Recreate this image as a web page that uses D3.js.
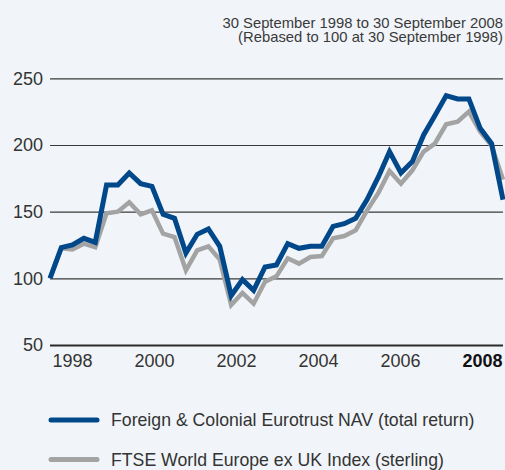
<!DOCTYPE html>
<html>
<head>
<meta charset="utf-8">
<script src="https://cdn.jsdelivr.net/npm/d3@7"></script>
<style>
  html, body { margin: 0; padding: 0; background: #f1f5f9; }
  svg { display: block; }
  text { font-family: "Liberation Sans", Arial, Helvetica, sans-serif; }
</style>
</head>
<body>
<svg id="chart" width="505" height="470"></svg>
<script>
// ---- Data (quarterly, 30 Sep 1998 to 30 Sep 2008, rebased to 100) ----
const navValues = [
  100, 123, 125, 130, 127, 170, 170, 179, 171, 169,
  148, 145, 119, 133, 137, 124, 87, 99, 91, 108.5,
  110, 126, 122.5, 124, 124, 139, 141, 145, 159, 176,
  195, 179, 187.5, 207.5, 222, 237, 234.5, 234.5, 212.5, 201,
  159
];
const indexValues = [
  100, 122.5, 121.7, 126, 123.3, 148.7, 150, 157, 148, 151,
  133.5, 131, 106, 121, 124, 114, 80, 89, 81, 97.5,
  101.5, 115, 111, 116, 116.7, 130, 131.7, 136, 151, 164,
  180.5, 171, 181, 195, 201, 215.5, 217.5, 225, 210, 199.5,
  174
];
const yTicks = [50, 100, 150, 200, 250];
const yearLabels = ["1998", "2000", "2002", "2004", "2006", "2008"];
const seriesNames = [
  "Foreign & Colonial Eurotrust NAV (total return)",
  "FTSE World Europe ex UK Index (sterling)"
];
const titleLines = [
  "30 September 1998 to 30 September 2008",
  "(Rebased to 100 at 30 September 1998)"
];

// quarter-end dates
const startDate = new Date(1998, 8, 30);
const dates = navValues.map((_, i) => d3.timeMonth.offset(startDate, 3 * i));

const svg = d3.select("#chart");
const colors = ["#00488a", "#a3a3a3"];

const x = d3.scaleTime().domain([dates[0], dates[dates.length - 1]]).range([50, 503]);
const y = d3.scaleLinear().domain([50, 250]).range([345, 78.3]);
const xLab = d3.scalePoint().domain(yearLabels).range([72, 482]);

// title
svg.append("g").selectAll("text").data(titleLines).join("text")
  .attr("x", 503).attr("y", (d, i) => 27.5 + i * 14.5)
  .attr("text-anchor", "end")
  .attr("font-size", 14.8)
  .attr("fill", "#3a3a3a")
  .text(d => d);

// gridlines + y labels
const yAxis = d3.axisLeft(y).tickValues(yTicks).tickSize(-453).tickPadding(7);
const gy = svg.append("g").attr("transform", "translate(50,0)").call(yAxis);
gy.select(".domain").remove();
gy.selectAll(".tick line")
  .attr("stroke", d => d === 50 ? "#2a2a2a" : "#3a3a3a")
  .attr("stroke-width", d => d === 50 ? 2 : 1.2);
gy.selectAll(".tick text")
  .attr("font-size", 18).attr("fill", "#333")
  .attr("x", -7)
  .style("font-family", "'Liberation Sans', Arial, sans-serif");

// x labels
const xAxis = d3.axisBottom(xLab).tickSize(0).tickPadding(0);
const gx = svg.append("g").attr("transform", "translate(0,352)").call(xAxis);
gx.select(".domain").remove();
gx.selectAll(".tick text")
  .attr("font-size", 18)
  .attr("dy", "0.85em")
  .attr("fill", d => d === "2008" ? "#111" : "#333")
  .attr("font-weight", d => d === "2008" ? "bold" : "normal")
  .style("font-family", "'Liberation Sans', Arial, sans-serif");

// lines
const line = d3.line().x((d, i) => x(dates[i])).y(d => y(d)).curve(d3.curveLinear);
const clipId = "plotclip";
svg.append("clipPath").attr("id", clipId).append("rect")
  .attr("x", 46).attr("y", 60).attr("width", 459).attr("height", 300);
const gl = svg.append("g").attr("clip-path", `url(#${clipId})`);
[indexValues, navValues].forEach((vals, k) => {
  gl.append("path")
    .datum(vals)
    .attr("fill", "none")
    .attr("stroke", k === 0 ? colors[1] : colors[0])
    .attr("stroke-width", k === 0 ? 4.5 : 5)
    .attr("stroke-linejoin", "miter")
    .attr("stroke-linecap", "butt")
    .attr("d", line);
});

// legend
const lg = svg.append("g").selectAll("g").data(seriesNames).join("g")
  .attr("transform", (d, i) => `translate(0,${420 + i * 39.5})`);
lg.append("line")
  .attr("x1", 51).attr("x2", 97).attr("y1", 0).attr("y2", 0)
  .attr("stroke", (d, i) => colors[i])
  .attr("stroke-width", 5).attr("stroke-linecap", "round");
lg.append("text")
  .attr("x", 111).attr("y", 0).attr("dy", "0.35em")
  .attr("font-size", 17.7).attr("fill", "#333")
  .text(d => d);
</script>
</body>
</html>
